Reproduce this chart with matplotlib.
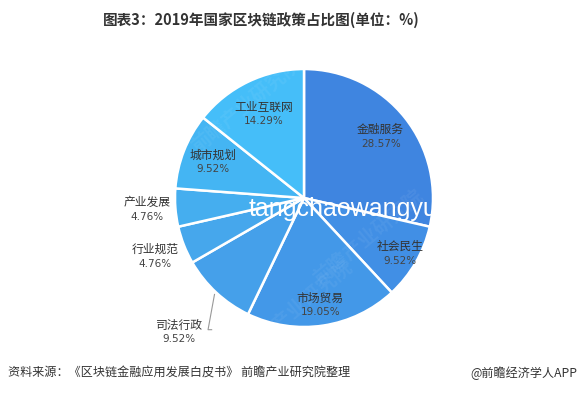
import numpy as np
import matplotlib
matplotlib.use("Agg")
import matplotlib.pyplot as plt

plt.rcParams['font.family'] = ['Noto Sans CJK SC', 'DejaVu Sans']

# data
categories = ["金融服务", "社会民生", "市场贸易", "司法行政", "行业规范", "产业发展", "城市规划", "工业互联网"]
shares = [28.57, 9.52, 19.05, 9.52, 4.76, 4.76, 9.52, 14.29]
pct_labels = ["28.57%", "9.52%", "19.05%", "9.52%", "4.76%", "4.76%", "9.52%", "14.29%"]

colors = ["#3F85E0", "#418FE5", "#4398E8", "#45A0EA", "#46A7EC", "#45AEEF", "#44B5F3", "#45BEF9"]
# label distance from centre (in radii) for each slice
label_r = [0.76, 0.86, 0.84, 1.42, 1.24, 1.22, 0.76, 0.72]

fig = plt.figure(figsize=(5.8, 3.94), dpi=100)
fig.patch.set_facecolor("white")

# pie centre ~ (304, 198) px, radius ~ 129 px
ax = fig.add_axes([(304 - 193.5) / 580, (196 - 193.5) / 394, 387 / 580, 387 / 394])
wedges, _ = ax.pie(shares, colors=colors, startangle=90, counterclock=False,
                   wedgeprops=dict(edgecolor="white", linewidth=1.8))
ax.set_xlim(-1.5, 1.5)
ax.set_ylim(-1.5, 1.5)
ax.set_aspect("equal")
ax.axis("off")

# faint watermarks over the pie
for (wx, wy) in [(-0.45, 0.72), (0.5, -0.3), (-0.05, -0.85)]:
    ax.text(wx, wy, "前瞻产业研究院", rotation=40, fontsize=14, fontweight="bold",
            color="white", alpha=0.06, ha="center", va="center")

for w, name, pct, r in zip(wedges, categories, pct_labels, label_r):
    ang = np.deg2rad((w.theta1 + w.theta2) / 2)
    x, y = r * np.cos(ang), r * np.sin(ang)
    ax.text(x, y + 0.055, name, ha="center", va="center", fontsize=8.5, color="#333333")
    ax.text(x, y - 0.055, pct, ha="center", va="center", fontsize=7.5, color="#444444",
            family="DejaVu Sans")
    if r > 1.3:
        # leader line for the outside label
        sx, sy = 1.02 * np.cos(ang), 1.02 * np.sin(ang)
        ax.plot([sx, sx - 0.05, x + 0.25], [sy, y + 0.02, y + 0.02],
                color="#999999", lw=0.8, clip_on=False)

# watermark
fig.text(249 / 580, 1 - 216 / 394, "tangchaowangyu", color="white", fontsize=18,
         family="Liberation Sans", ha="left", va="baseline")

fig.text(261 / 580, 1 - 20 / 394, "图表3：2019年国家区块链政策占比图(单位：%)", ha="center", va="center",
         fontsize=10.5, fontweight="bold", color="#333333")

fig.text(8 / 580, 1 - 373 / 394, "资料来源：《区块链金融应用发展白皮书》 前瞻产业研究院整理",
         ha="left", va="center", fontsize=8.7, color="#333333")
fig.text(577 / 580, 1 - 373 / 394, "@前瞻经济学人APP", ha="right", va="center",
         fontsize=8.7, color="#333333")

fig.savefig("out.png", dpi=100)
